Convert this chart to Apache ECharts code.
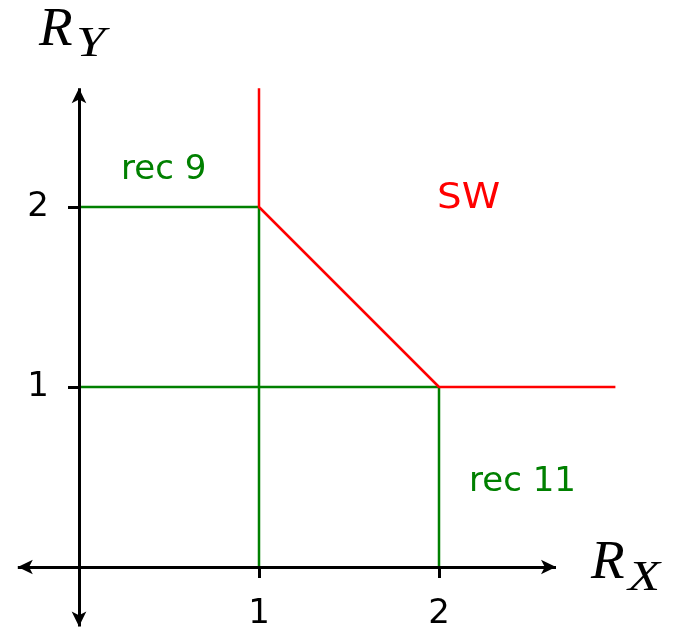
<!DOCTYPE html>
<html>
<head>
<meta charset="utf-8">
<script src="https://cdn.jsdelivr.net/npm/echarts@6/dist/echarts.min.js"></script>
<style>
html, body { margin: 0; background: #fff; }
#chart { width: 677px; height: 628px; }
</style>
</head>
<body>
<div id="chart"></div>
<script>
// tick labels on both axes
var tickValues = [1, 2];
// red boundary (SW)
var swBoundary = [[1, 2.66], [1, 2], [2, 1], [2.98, 1]];
// green rectangles
var rec9Lines = [[[0, 2], [1, 2]], [[1, 0], [1, 2]]];
var rec11Lines = [[[0, 1], [2, 1]], [[2, 0], [2, 1]]];
// axis arrow extents (data units)
var xAxisEnds = [-0.34, 2.65];
var yAxisEnds = [-0.33, 2.66];

var green = '#008000';
var red = '#ff0000';
var sans = 'DejaVu Sans';

var series = [];
rec9Lines.concat(rec11Lines).forEach(function (seg) {
    series.push({
        type: 'line',
        data: seg,
        symbol: 'none',
        lineStyle: { color: green, width: 2.5 },
        z: 2
    });
});
series.push({
    type: 'line',
    data: swBoundary,
    symbol: 'none',
    lineStyle: { color: red, width: 2.5 },
    z: 3
});
// axes with arrows on both ends
series.push({
    type: 'line',
    data: [],
    z: 4,
    markLine: {
        silent: true,
        symbol: ['arrow', 'arrow'],
        symbolSize: [11, 15],
        label: { show: false },
        lineStyle: { color: '#000', width: 3, type: 'solid' },
        data: [
            [{ coord: [xAxisEnds[0], 0] }, { coord: [xAxisEnds[1], 0] }],
            [{ coord: [0, yAxisEnds[0]] }, { coord: [0, yAxisEnds[1]] }]
        ]
    }
});
// tick labels, placed at the tick positions
series.push({
    type: 'scatter',
    symbolSize: 0,
    silent: true,
    itemStyle: { opacity: 1, color: '#000' },
    data: tickValues.map(function (v) { return [v, 0]; }),
    label: { show: true, position: 'bottom', distance: 30, fontSize: 34, fontFamily: sans, color: '#000',
        formatter: function (p) { return p.value[0]; } }
});
series.push({
    type: 'scatter',
    symbolSize: 0,
    silent: true,
    itemStyle: { opacity: 1, color: '#000' },
    data: tickValues.map(function (v) { return [0, v]; }),
    label: { show: true, position: 'left', distance: 30, fontSize: 34, fontFamily: sans, color: '#000',
        formatter: function (p) { return p.value[1]; } }
});

var chart = echarts.init(document.getElementById('chart'));
chart.setOption({
    animation: false,
    backgroundColor: '#fff',
    grid: { left: 7, top: 63, width: 630, height: 565.2, containLabel: false, outerBoundsMode: 'none' },
    xAxis: {
        type: 'value',
        min: -0.4,
        max: 3.1,
        splitLine: { show: false },
        axisLine: { show: false, onZero: true },
        axisTick: { show: true, customValues: tickValues, length: 11, lineStyle: { color: '#000', width: 3 } },
        axisLabel: { show: false }
    },
    yAxis: {
        type: 'value',
        min: -0.34,
        max: 2.8,
        splitLine: { show: false },
        axisLine: { show: false, onZero: true },
        axisTick: { show: true, customValues: tickValues, length: 11, lineStyle: { color: '#000', width: 3 } },
        axisLabel: { show: false }
    },
    series: series,
    graphic: [
        { type: 'text', left: 121, top: 153, style: { text: 'rec 9', fill: green, font: '34px "DejaVu Sans"' } },
        { type: 'text', left: 437, top: 181, scaleX: 1.08, style: { text: 'SW', fill: red, font: '36px "DejaVu Sans"' } },
        { type: 'text', left: 469, top: 465, style: { text: 'rec 11', fill: green, font: '34px "DejaVu Sans"' } },
        { type: 'text', left: 39, top: 3, style: { text: 'R', fill: '#000', font: 'italic 55px "Liberation Serif"' } },
        { type: 'text', left: 76, top: 24, scaleX: 1.25, style: { text: 'Y', fill: '#000', font: 'italic 42px "Liberation Serif"' } },
        { type: 'text', left: 591, top: 536, style: { text: 'R', fill: '#000', font: 'italic 55px "Liberation Serif"' } },
        { type: 'text', left: 628, top: 558, scaleX: 1.25, style: { text: 'X', fill: '#000', font: 'italic 42px "Liberation Serif"' } }
    ]
});
</script>
</body>
</html>
